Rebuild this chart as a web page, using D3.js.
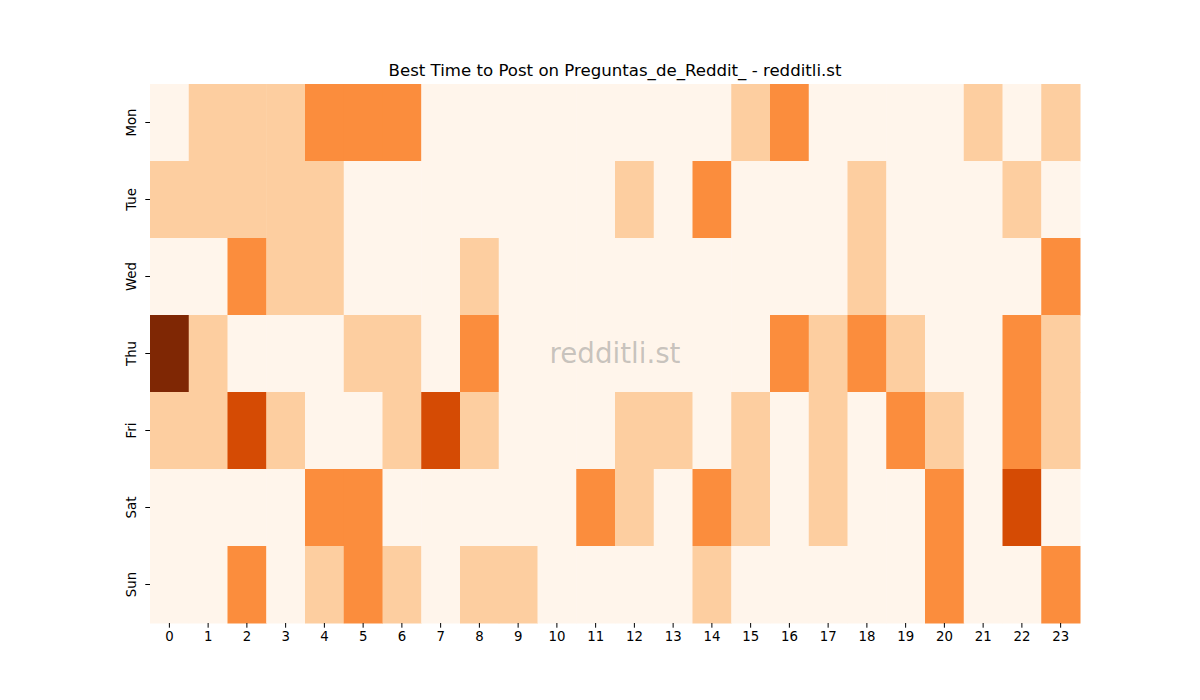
<!DOCTYPE html>
<html>
<head>
<meta charset="utf-8">
<script src="https://cdn.jsdelivr.net/npm/d3@7"></script>
<style>
  body { margin: 0; background: #fff; }
  text { font-family: "DejaVu Sans", sans-serif; }
</style>
</head>
<body>
<div id="chart"></div>
<script>
// days and hours
var days = ["Mon", "Tue", "Wed", "Thu", "Fri", "Sat", "Sun"];
var hours = d3.range(24);

// one row of 24 values per day (0..4)
var mon = [0,1,1,1,2,2,2,0,0,0,0,0,0,0,0,1,2,0,0,0,0,1,0,1];
var tue = [1,1,1,1,1,0,0,0,0,0,0,0,1,0,2,0,0,0,1,0,0,0,1,0];
var wed = [0,0,2,1,1,0,0,0,1,0,0,0,0,0,0,0,0,0,1,0,0,0,0,2];
var thu = [4,1,0,0,0,1,1,0,2,0,0,0,0,0,0,0,2,1,2,1,0,0,2,1];
var fri = [1,1,3,1,0,0,1,3,1,0,0,0,1,1,0,1,0,1,0,2,1,0,2,1];
var sat = [0,0,0,0,2,2,0,0,0,0,0,2,1,0,2,1,0,1,0,0,2,0,3,0];
var sun = [0,0,2,0,1,2,1,0,1,1,0,0,0,0,1,0,0,0,0,0,2,0,0,2];
var rows = [mon, tue, wed, thu, fri, sat, sun];

var title = "Best Time to Post on Preguntas_de_Reddit_ - redditli.st";

var W = 1200, H = 700;
var margin = {top: 84, right: 120, bottom: 77, left: 150};
var width = W - margin.left - margin.right,
    height = H - margin.top - margin.bottom;

var svg = d3.select("#chart").append("svg")
    .attr("width", W)
    .attr("height", H);

var g = svg.append("g")
    .attr("transform", "translate(" + margin.left + "," + margin.top + ")");

var x = d3.scaleBand().domain(hours).range([0, width]);
var y = d3.scaleBand().domain(days).range([0, height]);
var color = d3.scaleSequential(d3.interpolateOranges).domain([0, 4]);

// flatten into cells
var cells = [];
rows.forEach(function(r, i) {
    r.forEach(function(v, h) { cells.push({day: days[i], hour: h, value: v}); });
});

g.selectAll(".cell")
    .data(cells)
    .enter().append("rect")
    .attr("class", "cell")
    .attr("x", d => x(d.hour))
    .attr("y", d => y(d.day))
    .attr("width", x.bandwidth() + 0.5)
    .attr("height", y.bandwidth() + 0.5)
    .attr("fill", d => color(d.value));

// watermark
g.append("text")
    .attr("x", width / 2)
    .attr("y", height / 2)
    .attr("text-anchor", "middle")
    .attr("dominant-baseline", "central")
    .style("font-size", "27.7px")
    .style("fill", "#7a7a7a")
    .style("fill-opacity", 0.42)
    .text("redditli.st");

// x axis
var xAxis = g.append("g")
    .attr("transform", "translate(0," + height + ")")
    .call(d3.axisBottom(x).tickSize(4.7).tickPadding(4));
xAxis.select(".domain").remove();
xAxis.selectAll("text").style("font-size", "13.3px").style("font-family", "DejaVu Sans").attr("fill", "#000");
xAxis.selectAll("line").attr("stroke", "#000").attr("stroke-width", 1);

// y axis
var yAxis = g.append("g")
    .call(d3.axisLeft(y).tickSize(4.7).tickPadding(4));
yAxis.select(".domain").remove();
yAxis.selectAll("line").attr("stroke", "#000").attr("stroke-width", 1);
yAxis.selectAll("text")
    .style("font-size", "13.3px")
    .style("font-family", "DejaVu Sans")
    .attr("fill", "#000")
    .attr("text-anchor", "middle")
    .attr("dy", null)
    .attr("x", null)
    .attr("transform", "translate(-14,0) rotate(-90)");

// title
svg.append("text")
    .attr("x", margin.left + width / 2)
    .attr("y", margin.top - 8)
    .attr("text-anchor", "middle")
    .style("font-size", "16.6px")
    .text(title);
</script>
</body>
</html>
